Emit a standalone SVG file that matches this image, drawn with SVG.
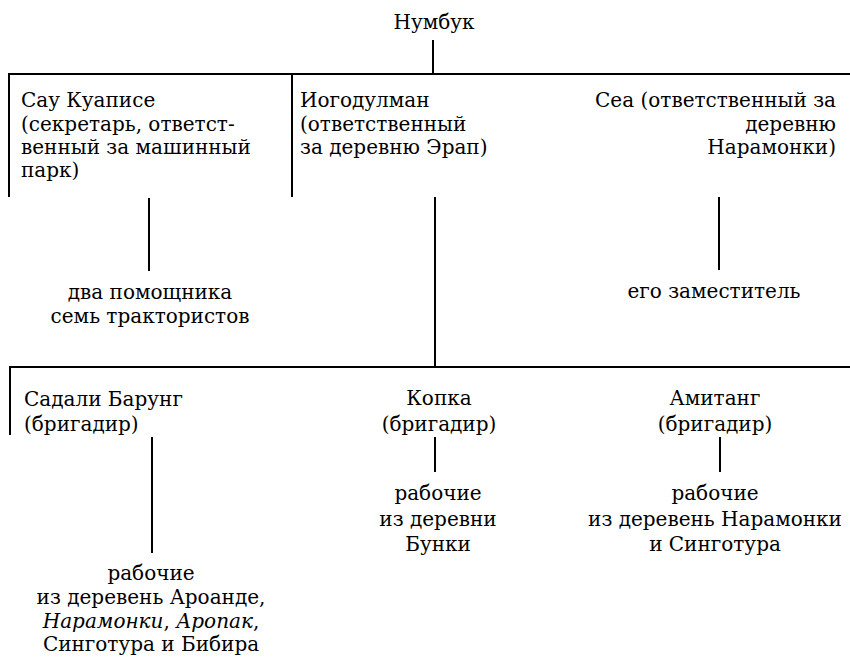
<svg xmlns="http://www.w3.org/2000/svg" width="850" height="658" viewBox="0 0 850 658">
<style>
text{font-family:'DejaVu Serif',serif;font-size:20px;fill:#000}
.c{text-anchor:middle}
.r{text-anchor:end}
.i{font-style:italic}
line,path{stroke:#000;stroke-width:2;fill:none}
</style>
<rect width="850" height="658" fill="#fff"/>
<g id="connectors">
<line x1="433" y1="40" x2="433" y2="74"/>
<path d="M9,197 V74 H850"/>
<line x1="292" y1="74" x2="292" y2="197"/>
<line x1="149" y1="198" x2="149" y2="271"/>
<line x1="435" y1="197" x2="435" y2="367"/>
<line x1="719" y1="197" x2="719" y2="270"/>
<path d="M10,435 V367 H850"/>
<line x1="152" y1="437" x2="152" y2="553"/>
<line x1="435" y1="437" x2="435" y2="472"/>
<line x1="720" y1="437" x2="720" y2="472"/>
</g>
<g id="n-numbuk"><text class="c" x="434" y="29">Нумбук</text></g>
<g id="n-sau">
<text x="21" y="107">Сау Куаписе</text>
<text x="21" y="130.5">(секретарь, ответст-</text>
<text x="21" y="153.5">венный за машинный</text>
<text x="21" y="176.5">парк)</text>
</g>
<g id="n-iogodulman">
<text x="300" y="107">Иогодулман</text>
<text x="300" y="130.5">(ответственный</text>
<text x="300" y="153.5">за деревню Эрап)</text>
</g>
<g id="n-sea">
<text class="r" x="836" y="107">Сеа (ответственный за</text>
<text class="r" x="836" y="130.5">деревню</text>
<text class="r" x="836" y="153.5">Нарамонки)</text>
</g>
<g id="n-pomoshchniki">
<text class="c" x="150" y="299">два помощника</text>
<text class="c" x="150" y="323">семь трактористов</text>
</g>
<g id="n-zamestitel"><text class="c" x="714" y="298">его заместитель</text></g>
<g id="n-sadali">
<text x="24" y="406">Садали Барунг</text>
<text x="24" y="431">(бригадир)</text>
</g>
<g id="n-kopka">
<text class="c" x="439" y="405">Копка</text>
<text class="c" x="439" y="431">(бригадир)</text>
</g>
<g id="n-amitang">
<text class="c" x="715" y="405">Амитанг</text>
<text class="c" x="715" y="431">(бригадир)</text>
</g>
<g id="n-rab1">
<text class="c" x="151" y="580">рабочие</text>
<text class="c" x="151" y="604">из деревень Ароанде,</text>
<text class="c" x="151" y="628"><tspan class="i">Нарамонки</tspan>, <tspan class="i">Аропак</tspan>,</text>
<text class="c" x="151" y="651">Синготура и Бибира</text>
</g>
<g id="n-rab2">
<text class="c" x="438" y="500">рабочие</text>
<text class="c" x="438" y="526">из деревни</text>
<text class="c" x="438" y="551">Бунки</text>
</g>
<g id="n-rab3">
<text class="c" x="715" y="500">рабочие</text>
<text class="c" x="715" y="526">из деревень Нарамонки</text>
<text class="c" x="715" y="551">и Синготура</text>
</g>
</svg>
